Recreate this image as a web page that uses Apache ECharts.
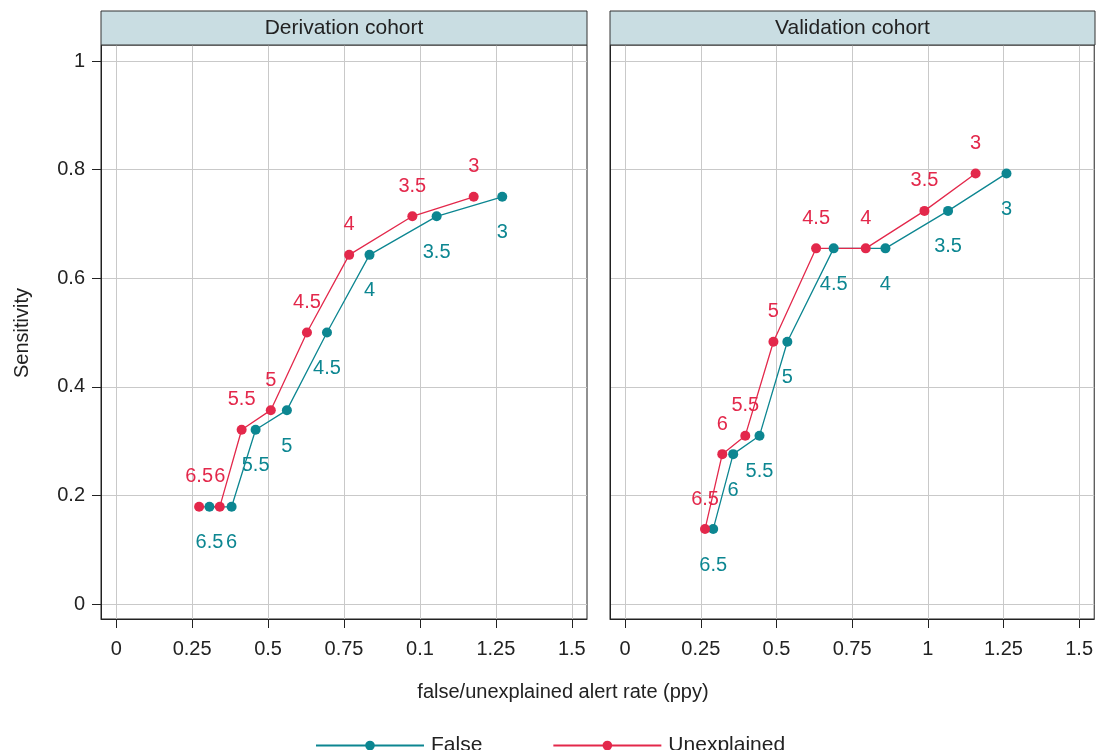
<!DOCTYPE html>
<html>
<head>
<meta charset="utf-8">
<script src="https://cdn.jsdelivr.net/npm/echarts@6/dist/echarts.min.js"></script>
<style>
  html, body { margin: 0; padding: 0; background: #fff; }
  #chart { width: 1096px; height: 750px; }
</style>
</head>
<body>
<div id="chart"></div>
<script>
// score thresholds labelling each point
const derivThresholds = ["6.5", "6", "5.5", "5", "4.5", "4", "3.5", "3"];
const validThresholds = ["6.5", "6", "5.5", "5", "4.5", "4", "3.5", "3"];

// Derivation cohort
const derivFalseRate = [0.307, 0.380, 0.459, 0.562, 0.694, 0.834, 1.055, 1.271];
const derivUnexpRate = [0.273, 0.341, 0.413, 0.509, 0.628, 0.767, 0.975, 1.177];
const derivSens = [0.179, 0.179, 0.321, 0.357, 0.5, 0.643, 0.714, 0.75];

// Validation cohort
const validFalseRate = [0.291, 0.357, 0.444, 0.536, 0.689, 0.860, 1.067, 1.260];
const validUnexpRate = [0.264, 0.321, 0.397, 0.490, 0.631, 0.795, 0.989, 1.158];
const validSens = [0.138, 0.276, 0.310, 0.483, 0.655, 0.655, 0.724, 0.793];

// ticks
const xTickValues = [0, 0.25, 0.5, 0.75, 1, 1.25, 1.5];
const derivXLabels = ["0", "0.25", "0.5", "0.75", "0.1", "1.25", "1.5"];
const validXLabels = ["0", "0.25", "0.5", "0.75", "1", "1.25", "1.5"];
const yTickValues = [0, 0.2, 0.4, 0.6, 0.8, 1];
const yLabels = ["0", "0.2", "0.4", "0.6", "0.8", "1"];

const TEAL = "#0c8691";
const RED = "#e3284b";
const FONT = "'Liberation Sans', Arial, Helvetica, sans-serif";
const TEXT = "#222";

const chart = echarts.init(document.getElementById("chart"));

const pick = (vals, labels) => (v) => {
  const i = vals.findIndex((t) => Math.abs(t - v) < 1e-6);
  return i < 0 ? "" : labels[i];
};

const points = (xs, ys, names) =>
  xs.map((x, i) => ({ value: [x, ys[i]], name: names[i] }));

const xAxisFor = (gridIndex, labels) => ({
  type: "value",
  gridIndex,
  min: -0.05,
  max: 1.55,
  axisLine: { show: true, onZero: false, lineStyle: { color: "#222", width: 1 } },
  axisTick: {
    show: true,
    length: 9,
    customValues: xTickValues,
    lineStyle: { color: "#222", width: 1 },
  },
  axisLabel: {
    customValues: xTickValues,
    formatter: pick(xTickValues, labels),
    color: TEXT,
    fontFamily: FONT,
    fontSize: 20,
    margin: 20,
  },
  splitLine: { show: true, lineStyle: { color: "#c9c9c9", width: 1 } },
});

const yAxisFor = (gridIndex, showLabels) => ({
  type: "value",
  gridIndex,
  min: -0.0276,
  max: 1.0295,
  axisLine: { show: true, onZero: false, lineStyle: { color: "#222", width: 1 } },
  axisTick: {
    show: showLabels,
    length: 9,
    customValues: yTickValues,
    lineStyle: { color: "#222", width: 1 },
  },
  axisLabel: {
    show: showLabels,
    customValues: yTickValues,
    formatter: pick(yTickValues, yLabels),
    color: TEXT,
    fontFamily: FONT,
    fontSize: 20,
    margin: 16,
  },
  splitLine: { show: true, lineStyle: { color: "#c9c9c9", width: 1 } },
});

const lineSeries = (name, color, idx, data, below) => ({
  name,
  type: "line",
  xAxisIndex: idx,
  yAxisIndex: idx,
  data,
  symbol: "circle",
  symbolSize: 10,
  showAllSymbol: true,
  lineStyle: { color, width: 1.3 },
  itemStyle: { color },
  label: {
    show: true,
    position: below ? "bottom" : "top",
    distance: below ? 21 : 15,
    formatter: (p) => p.name,
    color,
    fontFamily: FONT,
    fontSize: 20,
  },
  animation: false,
});

const strip = (x, w, title) => [
  {
    type: "rect",
    shape: { x, y: 11, width: w, height: 34 },
    style: { fill: "#c9dde2", stroke: "#333", lineWidth: 1 },
    z: 10,
  },
  {
    type: "text",
    x: x + w / 2,
    y: 28,
    style: {
      text: title,
      fill: TEXT,
      font: "21px " + FONT,
      textAlign: "center",
      textVerticalAlign: "middle",
    },
    z: 11,
  },
];

chart.setOption({
  backgroundColor: "#fff",
  animation: false,
  grid: [
    { left: 101, top: 45, width: 486, height: 574, show: true, borderColor: "#222", borderWidth: 1 },
    { left: 610, top: 45, width: 485, height: 574, show: true, borderColor: "#222", borderWidth: 1 },
  ],
  xAxis: [xAxisFor(0, derivXLabels), xAxisFor(1, validXLabels)],
  yAxis: [yAxisFor(0, true), yAxisFor(1, false)],
  legend: {
    data: ["False", "Unexplained"],
    left: 310,
    top: 730,
    itemWidth: 108,
    itemHeight: 12,
    itemGap: 70,
    textStyle: {
      color: TEXT,
      fontFamily: FONT,
      fontSize: 21,
      padding: [0, 0, 0, 2],
    },
  },
  series: [
    lineSeries("False", TEAL, 0, points(derivFalseRate, derivSens, derivThresholds), true),
    lineSeries("Unexplained", RED, 0, points(derivUnexpRate, derivSens, derivThresholds), false),
    lineSeries("False", TEAL, 1, points(validFalseRate, validSens, validThresholds), true),
    lineSeries("Unexplained", RED, 1, points(validUnexpRate, validSens, validThresholds), false),
  ],
  graphic: [
    ...strip(101, 486, "Derivation cohort"),
    ...strip(610, 485, "Validation cohort"),
    {
      type: "text",
      x: 563,
      y: 692,
      style: {
        text: "false/unexplained alert rate (ppy)",
        fill: TEXT,
        font: "20px " + FONT,
        textAlign: "center",
        textVerticalAlign: "middle",
      },
    },
    {
      type: "text",
      x: 22,
      y: 333,
      rotation: Math.PI / 2,
      style: {
        text: "Sensitivity",
        fill: TEXT,
        font: "20px " + FONT,
        textAlign: "center",
        textVerticalAlign: "middle",
      },
    },
  ],
});
</script>
</body>
</html>
